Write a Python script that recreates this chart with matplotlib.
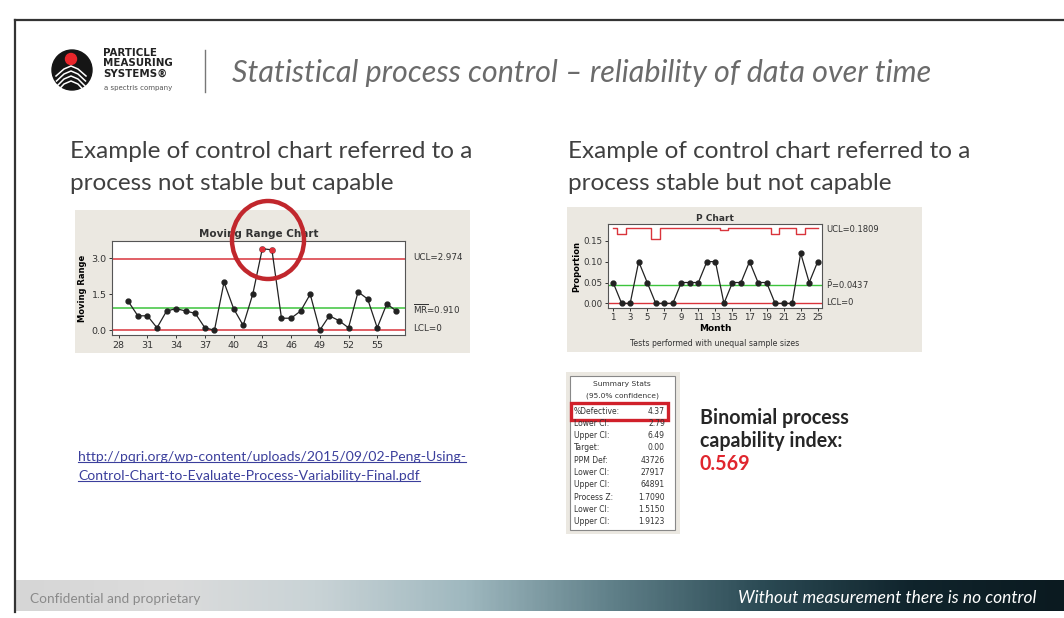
import numpy as np
import matplotlib.pyplot as plt
from matplotlib.patches import Rectangle, Ellipse
from matplotlib.lines import Line2D
from matplotlib.colors import LinearSegmentedColormap

W, H = 1064, 618

# Moving range chart data
mr_obs = list(range(29, 58))
mr_values = [1.2, 0.6, 0.6, 0.1, 0.8, 0.9, 0.8, 0.7, 0.1, 0.0, 2.0, 0.9, 0.2, 1.5,
             3.4, 3.35, 0.5, 0.5, 0.8, 1.5, 0.0, 0.6, 0.4, 0.1, 1.6, 1.3, 0.1, 1.1, 0.8]
mr_out = [43, 44]
mr_ucl, mr_center, mr_lcl = 2.974, 0.910, 0.0
mr_xticks = [28, 31, 34, 37, 40, 43, 46, 49, 52, 55]
mr_yticks = [0.0, 1.5, 3.0]

# P chart data
p_months = list(range(1, 26))
p_values = [0.05, 0.0, 0.0, 0.10, 0.05, 0.0, 0.0, 0.0, 0.05, 0.05, 0.05, 0.10, 0.10,
            0.0, 0.05, 0.05, 0.10, 0.05, 0.05, 0.0, 0.0, 0.0, 0.12, 0.05, 0.10]
p_ucl = [0.1809, 0.166, 0.1809, 0.1809, 0.1809, 0.154, 0.1809, 0.1809, 0.1809, 0.1809,
         0.1809, 0.1809, 0.1809, 0.175, 0.1809, 0.1809, 0.1809, 0.1809, 0.1809, 0.167,
         0.1809, 0.1809, 0.166, 0.1809, 0.1809]
p_center, p_lcl = 0.0437, 0.0
p_xticks = [1, 3, 5, 7, 9, 11, 13, 15, 17, 19, 21, 23, 25]
p_yticks = [0.00, 0.05, 0.10, 0.15]

# Summary stats table
stat_labels = ['%Defective:', 'Lower CI:', 'Upper CI:', 'Target:', 'PPM Def:',
               'Lower CI:', 'Upper CI:', 'Process Z:', 'Lower CI:', 'Upper CI:']
stat_values = ['4.37', '2.79', '6.49', '0.00', '43726', '27917', '64891',
               '1.7090', '1.5150', '1.9123']


def fx(x):
    return np.asarray(x) / W


def fy(y):
    return 1 - np.asarray(y) / H


def px_axes(fig, x0, y0, x1, y1, **kw):
    return fig.add_axes([fx(x0), fy(y1), (x1 - x0) / W, (y1 - y0) / H], **kw)


def put(fig, x, y, s, **kw):
    return fig.text(fx(x), fy(y), s, **kw)


fig = plt.figure(figsize=(W / 100, H / 100), dpi=100)
fig.patch.set_facecolor('white')

# slide border
fig.add_artist(Line2D([fx(15), fx(15)], [fy(20), fy(612)], color='#333333', lw=1.6))
fig.add_artist(Line2D([fx(15), fx(1064)], [fy(20), fy(20)], color='#333333', lw=1.6))

# ---- logo ----
fig.add_artist(Ellipse((fx(72), fy(70)), 40 / W, 40 / H, color='#151515'))
fig.add_artist(Ellipse((fx(71), fy(59)), 11 / W, 11 / H, color='#e8262b'))
for k in range(4):
    yy = 66 + k * 5
    xs = np.array([56 + k * 0.5, 64, 71, 78, 86 - k * 0.5])
    ys = np.array([yy + 10, yy + 3, yy, yy + 3, yy + 10])
    fig.add_artist(Line2D(fx(xs), fy(ys), color='white', lw=1.1))
for txt, yy in [('PARTICLE', 52.5), ('MEASURING', 63), ('SYSTEMS\u00ae', 73.5)]:
    put(fig, 103, yy, txt, fontsize=7.4, fontweight='bold', color='#222222',
        family='DejaVu Sans', va='center')
put(fig, 104, 88, 'a spectris company', fontsize=5, color='#555555', va='center')
fig.add_artist(Line2D([fx(205), fx(205)], [fy(50), fy(92)], color='#777777', lw=1))

# ---- titles ----
put(fig, 232, 73, 'Statistical process control \u2013 reliability of data over time',
    fontsize=22, style='italic', color='#6b6b6b', family='Lato', va='center')
for xx, lines in [(70, ['Example of control chart referred to a', 'process not stable but capable']),
                  (568, ['Example of control chart referred to a', 'process stable but not capable'])]:
    put(fig, xx, 151, lines[0], fontsize=17.5, color='#404040', family='Lato', va='center')
    put(fig, xx, 183, lines[1], fontsize=17.5, color='#404040', family='Lato', va='center')

# ---- moving range chart ----
fig.add_artist(Rectangle((fx(75), fy(353)), 395 / W, 143 / H, color='#ebe8e1', lw=0,
                         zorder=-5))
ax = px_axes(fig, 112, 241, 405, 335)
ax.set_facecolor('white')
ax.plot(mr_obs, mr_values, color='#222222', lw=0.9, marker='o', ms=3.5, zorder=3)
out_idx = [mr_obs.index(o) for o in mr_out]
ax.plot([mr_obs[i] for i in out_idx], [mr_values[i] for i in out_idx], ls='none',
        marker='s', ms=3.5, color='#e0303a', zorder=4)
ax.axhline(mr_ucl, color='#d9343c', lw=1.1)
ax.axhline(mr_center, color='#3cc43c', lw=1.1)
ax.axhline(mr_lcl, color='#d9343c', lw=1.1)
ax.set_xlim(27.3, 57.9)
ax.set_ylim(-0.2, 3.72)
ax.set_xticks(mr_xticks)
ax.set_yticks(mr_yticks)
ax.set_yticklabels(['0.0', '1.5', '3.0'])
ax.tick_params(labelsize=6.8, length=2.5, width=0.7, colors='#333333', pad=1.5)
for s in ax.spines.values():
    s.set_color('#555555')
    s.set_linewidth(0.8)
ax.set_ylabel('Moving Range', fontsize=6, fontweight='bold', labelpad=3)
ax.set_title('Moving Range Chart', fontsize=7.5, fontweight='bold', color='#333333', pad=3)
put(fig, 413, 258, 'UCL=2.974', fontsize=6.3, color='#333333', va='center')
put(fig, 413, 309, r'$\overline{\mathrm{MR}}$=0.910', fontsize=6.3, color='#333333', va='center')
put(fig, 413, 329, 'LCL=0', fontsize=6.3, color='#333333', va='center')
fig.add_artist(Ellipse((fx(268), fy(240)), 72 / W, 78 / H, fill=False,
                       edgecolor='#c1272d', lw=3.2, zorder=5))

# ---- p chart ----
fig.add_artist(Rectangle((fx(567), fy(352)), 355 / W, 145 / H, color='#ebe8e1', lw=0,
                         zorder=-5))
bx = px_axes(fig, 608, 224, 822, 308)
bx.set_facecolor('white')
bx.step(p_months, p_ucl, where='mid', color='#d9343c', lw=1.0)
bx.axhline(p_center, color='#3cc43c', lw=1.0)
bx.axhline(p_lcl + 0.002, color='#d9343c', lw=1.0)
bx.plot(p_months, p_values, color='#222222', lw=0.9, marker='o', ms=3.5, zorder=3)
bx.set_xlim(0.4, 25.5)
bx.set_ylim(-0.011, 0.19)
bx.set_xticks(p_xticks)
bx.set_yticks(p_yticks)
bx.set_yticklabels(['0.00', '0.05', '0.10', '0.15'])
bx.tick_params(labelsize=6.2, length=2.5, width=0.7, colors='#333333', pad=1.2)
for s in bx.spines.values():
    s.set_color('#555555')
    s.set_linewidth(0.8)
bx.set_ylabel('Proportion', fontsize=6, fontweight='bold', labelpad=2)
bx.set_xlabel('Month', fontsize=6.5, fontweight='bold', labelpad=1)
bx.set_title('P Chart', fontsize=6.5, fontweight='bold', color='#333333', pad=2)
put(fig, 826, 229, 'UCL=0.1809', fontsize=6, color='#333333', va='center')
put(fig, 826, 285, r'$\bar{\mathrm{P}}$=0.0437', fontsize=6, color='#333333', va='center')
put(fig, 826, 302, 'LCL=0', fontsize=6, color='#333333', va='center')
put(fig, 715, 343, 'Tests performed with unequal sample sizes', fontsize=5.6,
    color='#333333', ha='center', va='center')

# ---- summary stats box ----
fig.add_artist(Rectangle((fx(566), fy(534)), 114 / W, 162 / H, color='#ebe8e1', lw=0,
                         zorder=-5))
fig.add_artist(Rectangle((fx(570), fy(530)), 105 / W, 154 / H, facecolor='white',
                         edgecolor='#888888', lw=0.8, zorder=-4))
put(fig, 622, 384, 'Summary Stats', fontsize=5.4, color='#333333', ha='center', va='center')
put(fig, 622, 396, '(95.0% confidence)', fontsize=5.4, color='#333333', ha='center', va='center')
for i, (lab, val) in enumerate(zip(stat_labels, stat_values)):
    yy = 411 + i * 12.3
    put(fig, 574, yy, lab, fontsize=5.5, color='#333333', va='center')
    put(fig, 665, yy, val, fontsize=5.5, color='#333333', ha='right', va='center')
fig.add_artist(Rectangle((fx(571), fy(420)), 97 / W, 17 / H, fill=False,
                         edgecolor='#d0202a', lw=2.4))

for txt, yy, col in [('Binomial process', 418, '#262626'),
                     ('capability index:', 441, '#262626'),
                     ('0.569', 464, '#e0262e')]:
    put(fig, 700, yy, txt, fontsize=14.1, fontweight='bold', color=col,
        family='Lato', va='center')

# ---- link ----
link1 = put(fig, 78, 457, 'http://pqri.org/wp-content/uploads/2015/09/02-Peng-Using-',
            fontsize=10.1, color='#3b3f9c', family='Lato', va='center')
link2 = put(fig, 78, 476, 'Control-Chart-to-Evaluate-Process-Variability-Final.pdf',
            fontsize=10.1, color='#3b3f9c', family='Lato', va='center')

# ---- footer ----
foot = px_axes(fig, 16, 580, 1064, 611)
foot.set_axis_off()
foot_cmap = LinearSegmentedColormap.from_list(
    'foot', ['#d6d6d6', '#dcdcdc', '#c9d3d6', '#9fb8bf', '#5f7f88', '#2b4a54', '#10242c', '#0b1a20'])
grad = np.linspace(0, 1, 400).reshape(1, -1)
foot.imshow(grad, aspect='auto', cmap=foot_cmap, extent=[0, 1, 0, 1])
foot.set_xlim(0, 1)
foot.set_ylim(0, 1)
put(fig, 30, 599, 'Confidential and proprietary', fontsize=9.8, color='#8a8a8a',
    family='Lato', va='center')
put(fig, 1036, 598, 'Without measurement there is no control', fontsize=12.5,
    style='italic', color='white', family='Lato', ha='right', va='center')

# underline the link text
fig.canvas.draw()
r = fig.canvas.get_renderer()
for t in (link1, link2):
    bb = t.get_window_extent(r)
    y_line = (bb.y0 + 1) / H
    fig.add_artist(Line2D([bb.x0 / W, bb.x1 / W], [y_line, y_line], color='#3b3f9c', lw=0.8))

fig.savefig('out.png', dpi=100)
